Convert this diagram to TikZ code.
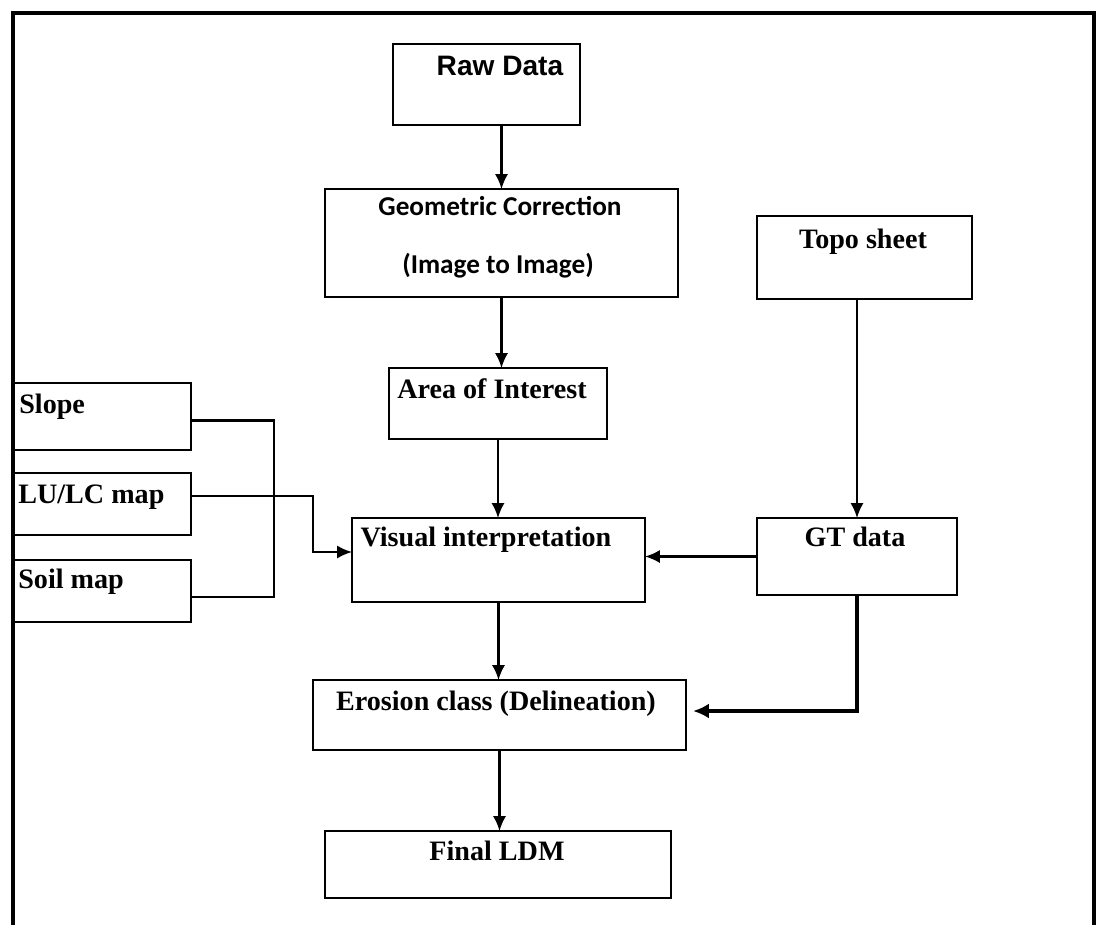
\documentclass[tikz,border=0pt]{standalone}
\usepackage{fontspec}
\setmainfont{Liberation Serif}
\newfontfamily\arialfont{Liberation Sans}
\newfontfamily\calibrifont{Carlito}
\usetikzlibrary{calc,positioning,arrows.meta}

\tikzset{
  flowbox/.style 2 args={draw, line width=1.3pt, anchor=north west, inner sep=0pt,
    outer sep=0pt, minimum width=#1*0.02cm, minimum height=#2*0.02cm},
  serif lbl/.style={font=\bfseries\fontsize{16}{18}\selectfont, inner sep=0pt, anchor=base},
  sans lbl/.style={font=\arialfont\bfseries\fontsize{16}{18}\selectfont, inner sep=0pt, anchor=base},
  calib lbl/.style={font=\calibrifont\bfseries\fontsize{15.5}{17}\selectfont, inner sep=0pt, anchor=base},
  link/.style={line width=1.2pt},
  flowarrow/.style={line width=1.2pt, -{Latex[length=8.5pt,width=7.5pt]}},
  heavyarrow/.style={line width=2.4pt, -{Latex[length=9pt,width=8.5pt]}, shorten >=4pt},
  frame/.style={line width=2.4pt}
}

\begin{document}
\begin{tikzpicture}[x=0.02cm, y=-0.02cm]
			%%%%% FRAME %%%%%
			\useasboundingbox (0,0) rectangle (1098,924);
			\draw[frame] (13,940) -- (13,13) -- (1094,13) -- (1094,940);
			
			%%%%% BOXES %%%%%
			\node[flowbox={187}{81}] (raw) at (393,44) {};
			\node[flowbox={353}{108}] (geo) at (325,189) {};
			\node[flowbox={215}{83}] (topo) at (757,216) {};
			\node[flowbox={218}{71}] (aoi) at (389,368) {};
			\node[flowbox={179}{67}] (slope) at (12,383) {};
			\node[flowbox={179}{62}] (lulc) at (12,473) {};
			\node[flowbox={179}{62}] (soil) at (12,560) {};
			\node[flowbox={293}{84}] (vis) at (352,518) {};
			\node[flowbox={200}{77}] (gt) at (757,518) {};
			\node[flowbox={373}{70}] (ero) at (313,680) {};
			\node[flowbox={346}{67}] (final) at (325,831) {};
			
			%%%%% TEXTS %%%%%
			\node[sans lbl] (rawt) at (500,75) {Raw Data};
			\node[calib lbl] (geot1) at (500,215) {Geometric Correction};
			\node[calib lbl] (geot2) at (498,273) {(Image to Image)};
			\node[serif lbl] (topot) at (863,248) {Topo sheet};
			\node[serif lbl] (aoit) at (492,398) {Area of Interest};
			\node[serif lbl, anchor=base west] (slopet) at (19,413) {Slope};
			\node[serif lbl, anchor=base west] (lulct) at (18,503) {LU/LC map};
			\node[serif lbl, anchor=base west] (soilt) at (18,588) {Soil map};
			\node[serif lbl] (vist) at (486,546) {Visual interpretation};
			\node[serif lbl] (gtt) at (855,546) {GT data};
			\node[serif lbl] (erot) at (496,710) {Erosion class (Delineation)};
			\node[serif lbl] (finalt) at (497,860) {Final LDM};
			
			%%%%% CONNECTORS %%%%%
			\draw[flowarrow] (raw.south -| geo.north) -- (geo.north);
			\draw[flowarrow] (geo.south) -- (geo.south |- aoi.north);
			\draw[flowarrow] (aoi.south) -- (aoi.south |- vis.north);
			\draw[flowarrow] (topo.south -| gt.north) -- (gt.north);
			\draw[flowarrow] (gt.west) -- (gt.west -| vis.east);
			\draw[flowarrow] (vis.south) -- (vis.south |- ero.north);
			\draw[flowarrow] (ero.south) -- (ero.south |- final.north);
			\draw[heavyarrow] (gt.south) |- ($(ero.east)+(0,-4)$);
			
			\draw[link] ($(slope.east)+(0,4)$) -| ($(soil.east)+(83,6)$) -- ($(soil.east)+(0,6)$);
			\draw[flowarrow] ($(lulc.east)+(0,-8)$) -| ($(vis.west)+(-39,-8)$) -- ($(vis.west)+(0,-8)$);
			
			%%%%% END %%%%%
\end{tikzpicture}
\end{document}
